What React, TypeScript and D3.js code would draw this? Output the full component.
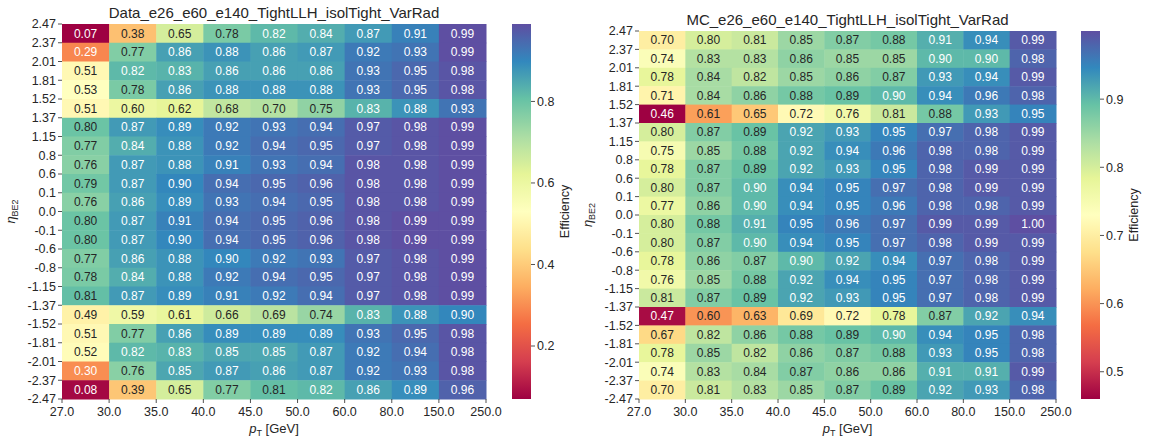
import React from "react";
import * as d3 from "d3";

// eta bin edges, top to bottom
const etaEdges = ["2.47", "2.37", "2.01", "1.81", "1.52", "1.37", "1.15", "0.8", "0.6", "0.1", "0.0",
    "-0.1", "-0.6", "-0.8", "-1.15", "-1.37", "-1.52", "-1.81", "-2.01", "-2.37", "-2.47"];
// pT bin edges
const ptEdges = ["27.0", "30.0", "35.0", "40.0", "45.0", "50.0", "60.0", "80.0", "150.0", "250.0"];

const dataEff = [
    [0.07, 0.38, 0.65, 0.78, 0.82, 0.84, 0.87, 0.91, 0.99],
    [0.29, 0.77, 0.86, 0.88, 0.86, 0.87, 0.92, 0.93, 0.99],
    [0.51, 0.82, 0.83, 0.86, 0.86, 0.86, 0.93, 0.95, 0.98],
    [0.53, 0.78, 0.86, 0.88, 0.88, 0.88, 0.93, 0.95, 0.98],
    [0.51, 0.60, 0.62, 0.68, 0.70, 0.75, 0.83, 0.88, 0.93],
    [0.80, 0.87, 0.89, 0.92, 0.93, 0.94, 0.97, 0.98, 0.99],
    [0.77, 0.84, 0.88, 0.92, 0.94, 0.95, 0.97, 0.98, 0.99],
    [0.76, 0.87, 0.88, 0.91, 0.93, 0.94, 0.98, 0.98, 0.99],
    [0.79, 0.87, 0.90, 0.94, 0.95, 0.96, 0.98, 0.98, 0.99],
    [0.76, 0.86, 0.89, 0.93, 0.94, 0.95, 0.98, 0.98, 0.99],
    [0.80, 0.87, 0.91, 0.94, 0.95, 0.96, 0.98, 0.99, 0.99],
    [0.80, 0.87, 0.90, 0.94, 0.95, 0.96, 0.98, 0.99, 0.99],
    [0.77, 0.86, 0.88, 0.90, 0.92, 0.93, 0.97, 0.98, 0.99],
    [0.78, 0.84, 0.88, 0.92, 0.94, 0.95, 0.97, 0.98, 0.99],
    [0.81, 0.87, 0.89, 0.91, 0.92, 0.94, 0.97, 0.98, 0.99],
    [0.49, 0.59, 0.61, 0.66, 0.69, 0.74, 0.83, 0.88, 0.90],
    [0.51, 0.77, 0.86, 0.89, 0.89, 0.89, 0.93, 0.95, 0.98],
    [0.52, 0.82, 0.83, 0.85, 0.85, 0.87, 0.92, 0.94, 0.98],
    [0.30, 0.76, 0.85, 0.87, 0.86, 0.87, 0.92, 0.93, 0.98],
    [0.08, 0.39, 0.65, 0.77, 0.81, 0.82, 0.86, 0.89, 0.96],
];

const mcEff = [
    [0.70, 0.80, 0.81, 0.85, 0.87, 0.88, 0.91, 0.94, 0.99],
    [0.74, 0.83, 0.83, 0.86, 0.85, 0.85, 0.90, 0.90, 0.98],
    [0.78, 0.84, 0.82, 0.85, 0.86, 0.87, 0.93, 0.94, 0.99],
    [0.71, 0.84, 0.86, 0.88, 0.89, 0.90, 0.94, 0.96, 0.98],
    [0.46, 0.61, 0.65, 0.72, 0.76, 0.81, 0.88, 0.93, 0.95],
    [0.80, 0.87, 0.89, 0.92, 0.93, 0.95, 0.97, 0.98, 0.99],
    [0.75, 0.85, 0.88, 0.92, 0.94, 0.96, 0.98, 0.98, 0.99],
    [0.78, 0.87, 0.89, 0.92, 0.93, 0.95, 0.98, 0.99, 0.99],
    [0.80, 0.87, 0.90, 0.94, 0.95, 0.97, 0.98, 0.99, 0.99],
    [0.77, 0.86, 0.90, 0.94, 0.95, 0.96, 0.98, 0.98, 0.99],
    [0.80, 0.88, 0.91, 0.95, 0.96, 0.97, 0.99, 0.99, 1.00],
    [0.80, 0.87, 0.90, 0.94, 0.95, 0.97, 0.98, 0.99, 0.99],
    [0.78, 0.86, 0.87, 0.90, 0.92, 0.94, 0.97, 0.98, 0.99],
    [0.76, 0.85, 0.88, 0.92, 0.94, 0.95, 0.97, 0.98, 0.99],
    [0.81, 0.87, 0.89, 0.92, 0.93, 0.95, 0.97, 0.98, 0.99],
    [0.47, 0.60, 0.63, 0.69, 0.72, 0.78, 0.87, 0.92, 0.94],
    [0.67, 0.82, 0.86, 0.88, 0.89, 0.90, 0.94, 0.95, 0.98],
    [0.78, 0.85, 0.82, 0.86, 0.87, 0.88, 0.93, 0.95, 0.98],
    [0.74, 0.83, 0.84, 0.87, 0.86, 0.86, 0.91, 0.91, 0.99],
    [0.70, 0.81, 0.83, 0.85, 0.87, 0.89, 0.92, 0.93, 0.98],
];

const dataCbTicks = [0.2, 0.4, 0.6, 0.8];
const mcCbTicks = [0.5, 0.6, 0.7, 0.8, 0.9];

// "Spectral" palette, interpolated linearly like matplotlib does
const spectral = ["#9e0142", "#d53e4f", "#f46d43", "#fdae61", "#fee08b", "#ffffbf",
    "#e6f598", "#abdda4", "#66c2a5", "#3288bd", "#5e4fa2"];

const FONT = "'Liberation Sans', Arial, Helvetica, sans-serif";
const DARK = "#262626";

// seaborn-style annotation colour: white text on dark cells
function annotColor(c: string) {
    const rgb = d3.rgb(c);
    const lin = (v: number) => {
        v = v / 255;
        return v <= 0.03928 ? v / 12.92 : Math.pow((v + 0.055) / 1.055, 2.4);
    };
    const lum = 0.2126 * lin(rgb.r) + 0.7152 * lin(rgb.g) + 0.0722 * lin(rgb.b);
    return lum > 0.408 ? DARK : "#ffffff";
}

function Heatmap({ id, title, values, cbTicks, x0, x1, y0, y1, cbX }) {
    const nRows = values.length;
    const nCols = values[0].length;
    const [vmin, vmax] = d3.extent(values.flat());

    const xEdge = d3.scaleLinear().domain([0, nCols]).range([x0, x1]);
    const yEdge = d3.scaleLinear().domain([0, nRows]).range([y0, y1]);
    const color = d3.scaleLinear<string>()
        .domain(spectral.map((_, i) => vmin + (i / (spectral.length - 1)) * (vmax - vmin)))
        .range(spectral)
        .interpolate(d3.interpolateRgb)
        .clamp(true);
    const cbY = d3.scaleLinear().domain([vmin, vmax]).range([y1, y0]);
    const cbW = 19;
    const stops = d3.range(0, 1.0001, 0.02);
    const midY = (y0 + y1) / 2;

    return (
        <g>
            <defs>
                <linearGradient id={id} x1="0" y1="1" x2="0" y2="0">
                    {stops.map((t) => (
                        <stop key={t} offset={t} stopColor={color(vmin + t * (vmax - vmin))} />
                    ))}
                </linearGradient>
            </defs>
            <text x={(x0 + x1) / 2} y={y0 - 6} textAnchor="middle" fontSize={15} fill={DARK}>{title}</text>
            {values.map((row, i) =>
                row.map((v, j) => {
                    const c = color(v);
                    return (
                        <g key={i + "-" + j}>
                            <rect x={xEdge(j)} y={yEdge(i)} width={xEdge(j + 1) - xEdge(j) + 0.5}
                                height={yEdge(i + 1) - yEdge(i) + 0.5} fill={c} />
                            <text x={(xEdge(j) + xEdge(j + 1)) / 2} y={(yEdge(i) + yEdge(i + 1)) / 2}
                                dy="0.35em" textAnchor="middle" fontSize={12} fill={annotColor(c)}>
                                {v.toFixed(2)}
                            </text>
                        </g>
                    );
                })
            )}
            {/* y ticks */}
            {etaEdges.map((lab, i) => (
                <g key={"y" + i}>
                    <line x1={x0 - 4} x2={x0} y1={yEdge(i)} y2={yEdge(i)} stroke={DARK} strokeWidth={0.8} />
                    <text x={x0 - 6} y={yEdge(i)} dy="0.35em" textAnchor="end" fontSize={12.5} fill={DARK}>{lab}</text>
                </g>
            ))}
            {/* x ticks */}
            {ptEdges.map((lab, j) => (
                <g key={"x" + j}>
                    <line x1={xEdge(j)} x2={xEdge(j)} y1={y1} y2={y1 + 4} stroke={DARK} strokeWidth={0.8} />
                    <text x={xEdge(j)} y={y1 + 17} textAnchor="middle" fontSize={12.5} fill={DARK}>{lab}</text>
                </g>
            ))}
            <text x={(x0 + x1) / 2} y={y1 + 34} textAnchor="middle" fontSize={13} fill={DARK}>
                <tspan fontStyle="italic">p</tspan>
                <tspan fontSize={9} dy={3}>T</tspan>
                <tspan dy={-3}> [GeV]</tspan>
            </text>
            <text transform={`translate(${x0 - 47},${midY}) rotate(-90)`} textAnchor="middle" fontSize={13} fill={DARK}>
                <tspan fontStyle="italic">η</tspan>
                <tspan fontSize={9} dy={3}>BE2</tspan>
            </text>
            {/* colour bar */}
            <rect x={cbX} y={y0} width={cbW} height={y1 - y0} fill={`url(#${id})`} />
            {cbTicks.map((t) => (
                <g key={"cb" + t}>
                    <line x1={cbX + cbW} x2={cbX + cbW + 4} y1={cbY(t)} y2={cbY(t)} stroke={DARK} strokeWidth={0.8} />
                    <text x={cbX + cbW + 6} y={cbY(t)} dy="0.35em" fontSize={12.5} fill={DARK}>{t.toFixed(1)}</text>
                </g>
            ))}
            <text transform={`translate(${cbX + cbW + 38},${midY}) rotate(-90)`} textAnchor="middle" fontSize={12.5} fill={DARK}>
                Efficiency
            </text>
        </g>
    );
}

export default function App() {
    return (
        <svg width={1157} height={438} style={{ position: "absolute", left: 0, top: 0, fontFamily: FONT, background: "#fff" }}>
            <Heatmap id="cbData" title="Data_e26_e60_e140_TightLLH_isolTight_VarRad" values={dataEff}
                cbTicks={dataCbTicks} x0={62} x1={486} y0={24} y1={399} cbX={512} />
            <Heatmap id="cbMC" title="MC_e26_e60_e140_TightLLH_isolTight_VarRad" values={mcEff}
                cbTicks={mcCbTicks} x0={639} x1={1056} y0={31} y1={399} cbX={1081} />
        </svg>
    );
}
